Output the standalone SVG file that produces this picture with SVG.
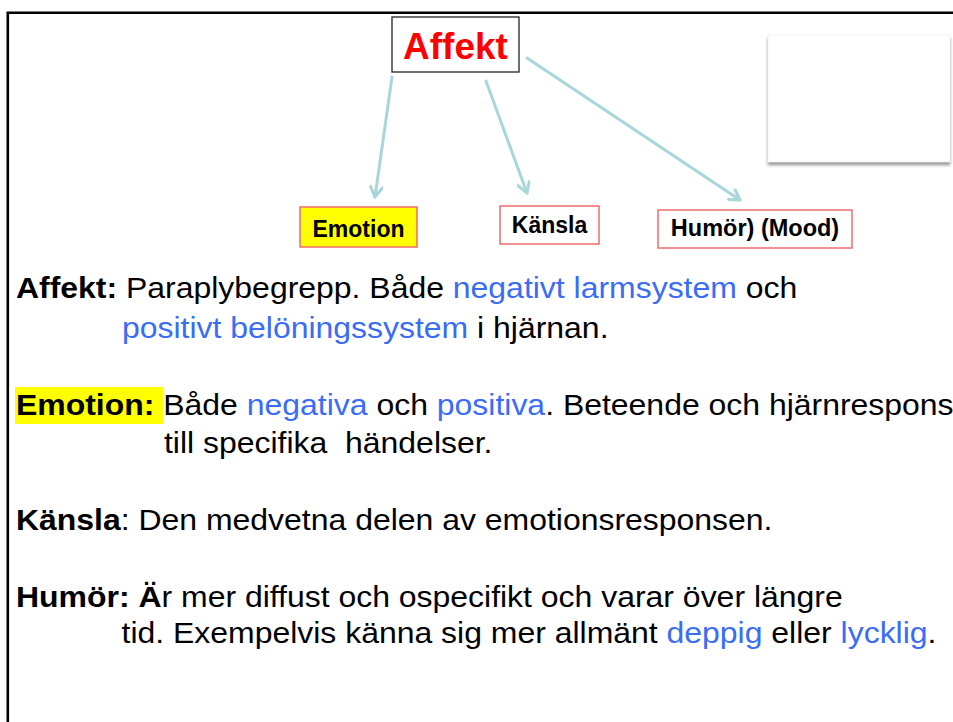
<svg xmlns="http://www.w3.org/2000/svg" width="953" height="722" viewBox="0 0 953 722">
<defs>
<style>
.frame{stroke:#000;stroke-width:2.6;fill:none}
.node{fill:#fff;stroke:#f26b6b;stroke-width:1.5}
.nt{font-family:"Liberation Sans",Arial,sans-serif;font-weight:bold;font-size:23px;fill:#000}
.conn{stroke:#a9d6db;stroke-width:3;fill:none;stroke-linecap:round}
.body{font-family:"Liberation Sans",Arial,sans-serif;font-size:30px;fill:#000;white-space:pre}
.b{font-weight:bold}
.bl{fill:#3a6cf6}
</style>
<marker id="arr" markerUnits="userSpaceOnUse" viewBox="0 0 14 14" refX="12" refY="7" markerWidth="14" markerHeight="14" orient="auto">
<path d="M2,1 L12,7 L2,13" fill="none" stroke="#a9d6db" stroke-width="3" stroke-linecap="round" stroke-linejoin="round"/>
</marker>
<filter id="sh" x="-10%" y="-10%" width="120%" height="130%">
<feDropShadow dx="0" dy="3" stdDeviation="1.6" flood-color="#808080" flood-opacity="0.8"/>
</filter>
</defs>
<rect x="0" y="0" width="953" height="722" fill="#fff"/>
<path class="frame" d="M7.8,722 L7.8,12.8 L953,12.8"/>
<rect id="placeholder" x="768" y="35" width="182" height="127" fill="#fff" stroke="#ececec" stroke-width="0.6" filter="url(#sh)"/>
<g id="connectors">
<line class="conn" x1="392" y1="77" x2="375" y2="197" marker-end="url(#arr)"/>
<line class="conn" x1="486" y1="81" x2="527" y2="193" marker-end="url(#arr)"/>
<line class="conn" x1="527" y1="58" x2="740" y2="200" marker-end="url(#arr)"/>
</g>
<g id="node-affekt">
<rect x="392" y="17" width="127" height="55" fill="#fff" stroke="#222" stroke-width="1.3"/>
<text x="455.5" y="59" text-anchor="middle" font-family="Liberation Sans, Arial, sans-serif" font-weight="bold" font-size="37" fill="#ff0000">Affekt</text>
</g>
<g id="node-emotion">
<rect class="node" x="300" y="207" width="117" height="40" style="fill:#ffff00"/>
<text class="nt" x="358.5" y="237" text-anchor="middle">Emotion</text>
</g>
<g id="node-kansla">
<rect class="node" x="500" y="206" width="99" height="38"/>
<text class="nt" x="549.5" y="233" text-anchor="middle">Känsla</text>
</g>
<g id="node-humor">
<rect class="node" x="658" y="210" width="194" height="38"/>
<text class="nt" x="755" y="236" text-anchor="middle" style="font-size:23.5px">Humör) (Mood)</text>
</g>
<rect x="15" y="387" width="148" height="37" fill="#ffff00"/>
<g id="body-text" transform="scale(1.065,1)">
<text class="body" x="15.02" y="298"><tspan class="b">Affekt:</tspan> Paraplybegrepp. Både <tspan class="bl">negativt larmsystem</tspan> och</text>
<text class="body" x="114.55" y="338"><tspan class="bl">positivt belöningssystem</tspan> i hjärnan.</text>
<text class="body" x="15.02" y="415"><tspan class="b">Emotion:</tspan> Både <tspan class="bl">negativa</tspan> och <tspan class="bl">positiva</tspan>. Beteende och hjärnrespons</text>
<text class="body" x="153.99" y="453">till specifika  händelser.</text>
<text class="body" x="15.02" y="530"><tspan class="b">Känsla</tspan>: Den medvetna delen av emotionsresponsen.</text>
<text class="body" x="15.02" y="607"><tspan class="b">Humör: Ä</tspan>r mer diffust och ospecifikt och varar över längre</text>
<text class="body" x="114.1" y="643">tid. Exempelvis känna sig mer allmänt <tspan class="bl">deppig</tspan> eller <tspan class="bl">lycklig</tspan>.</text>
</g>
</svg>
